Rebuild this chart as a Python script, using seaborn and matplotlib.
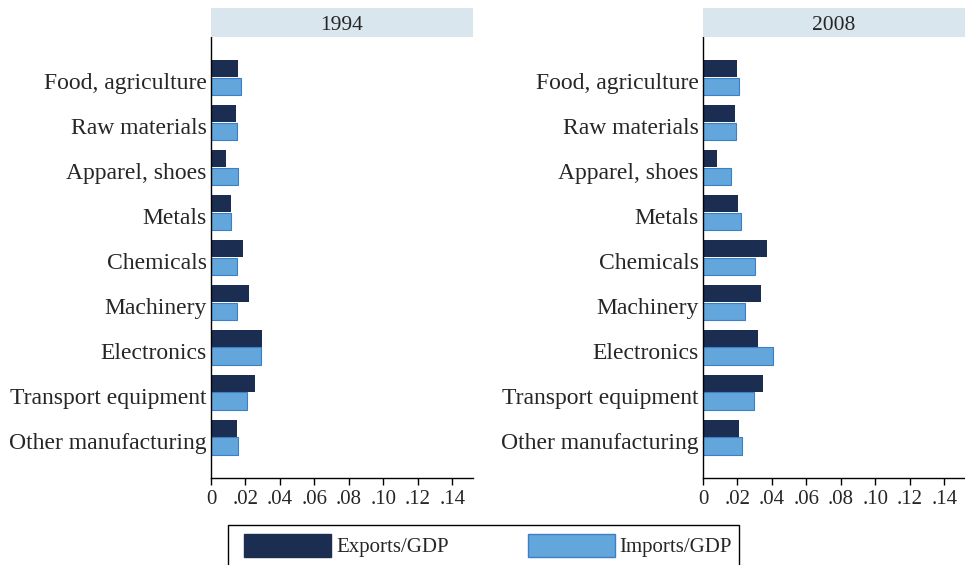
import matplotlib
matplotlib.use("Agg")
import matplotlib.pyplot as plt
import matplotlib.transforms as mtransforms
import seaborn as sns
import pandas as pd
from matplotlib.patches import Patch, Rectangle

categories = ["Food, agriculture", "Raw materials", "Apparel, shoes", "Metals",
              "Chemicals", "Machinery", "Electronics", "Transport equipment",
              "Other manufacturing"]
years = ["1994", "2008"]
exports_1994 = [0.0159, 0.0144, 0.0087, 0.0118, 0.0184, 0.0223, 0.0297, 0.0254, 0.0150]
imports_1994 = [0.0173, 0.0150, 0.0159, 0.0115, 0.0150, 0.0150, 0.0289, 0.0210, 0.0159]
exports_2008 = [0.0200, 0.0188, 0.0082, 0.0202, 0.0373, 0.0335, 0.0318, 0.0347, 0.0206]
imports_2008 = [0.0210, 0.0192, 0.0165, 0.0222, 0.0304, 0.0243, 0.0406, 0.0294, 0.0229]
series = ["Exports/GDP", "Imports/GDP"]
xticks = [0, 0.02, 0.04, 0.06, 0.08, 0.10, 0.12, 0.14]
xticklabels = ["0", ".02", ".04", ".06", ".08", ".10", ".12", ".14"]

c_exp = "#1c2d52"
c_imp = "#62a6dc"
c_imp_edge = "#3d7fc4"

sns.set_theme(style="white")
plt.rcParams["font.family"] = ["Liberation Serif", "DejaVu Serif"]

W, H = 965, 565
fig = plt.figure(figsize=(W / 100, H / 100), dpi=100)

data = {
    "1994": (exports_1994, imports_1994),
    "2008": (exports_2008, imports_2008),
}

panel_x = [211 / W, 703 / W]
for i, yr in enumerate(years):
    ex, im = data[yr]
    df = pd.DataFrame({
        "category": categories * 2,
        "value": ex + im,
        "series": [series[0]] * len(categories) + [series[1]] * len(categories),
    })
    ax = fig.add_axes([panel_x[i], 1 - 478 / H, 262 / W, 441 / H])
    sns.barplot(data=df, x="value", y="category", hue="series", orient="h",
                palette=[c_exp, c_imp], width=0.76, ax=ax, legend=False,
                edgecolor="none", saturation=1)
    imp_rgb = matplotlib.colors.to_rgb(c_imp)
    for p in ax.patches:
        fc = p.get_facecolor()
        if abs(fc[2] - imp_rgb[2]) < 0.01:
            p.set_edgecolor(c_imp_edge)
            p.set_linewidth(0.8)
    ax.set_xlim(0, 0.152)
    ax.set_ylim(8.9, -0.9)
    ax.set_xticks(xticks)
    ax.set_xticklabels(xticklabels, fontsize=15)
    ax.tick_params(axis="y", labelsize=17, length=0, pad=3)
    ax.tick_params(axis="x", direction="out", length=5, width=1, color="black",
                   bottom=True, pad=4)
    off = mtransforms.ScaledTranslation(0, -3.5 / 100, fig.dpi_scale_trans)
    for lab in ax.get_yticklabels():
        lab.set_transform(lab.get_transform() + off)
    ax.set_xlabel("")
    ax.set_ylabel("")
    for s in ["top", "right"]:
        ax.spines[s].set_visible(False)
    for s in ["left", "bottom"]:
        ax.spines[s].set_color("black")
        ax.spines[s].set_linewidth(1)
    # header strip
    fig.patches.append(Rectangle((panel_x[i], 1 - 37 / H), 262 / W, 29 / H,
                                 transform=fig.transFigure, facecolor="#d9e6ee",
                                 edgecolor="none"))
    fig.text(panel_x[i] + 131 / W, 1 - 23 / H, yr, ha="center",
             va="center_baseline", fontsize=15.5)

# legend frame
fig.patches.append(Rectangle((228 / W, -5 / H), (739 - 228) / W, (5 + 565 - 525) / H,
                             transform=fig.transFigure, facecolor="white",
                             edgecolor="black", linewidth=1))
handles = [Patch(facecolor=c_exp, edgecolor=c_exp),
           Patch(facecolor=c_imp, edgecolor=c_imp_edge)]
fs = 15
px = fs * 100 / 72
leg = fig.legend(handles, series, loc="upper left",
                 bbox_to_anchor=(244 / W, 1 - 534 / H), ncol=2, fontsize=fs,
                 frameon=False, handlelength=87 / px, handleheight=27 / px,
                 columnspacing=79 / px, handletextpad=5 / px, borderpad=0,
                 borderaxespad=0)

fig.savefig("out.png", dpi=100)
